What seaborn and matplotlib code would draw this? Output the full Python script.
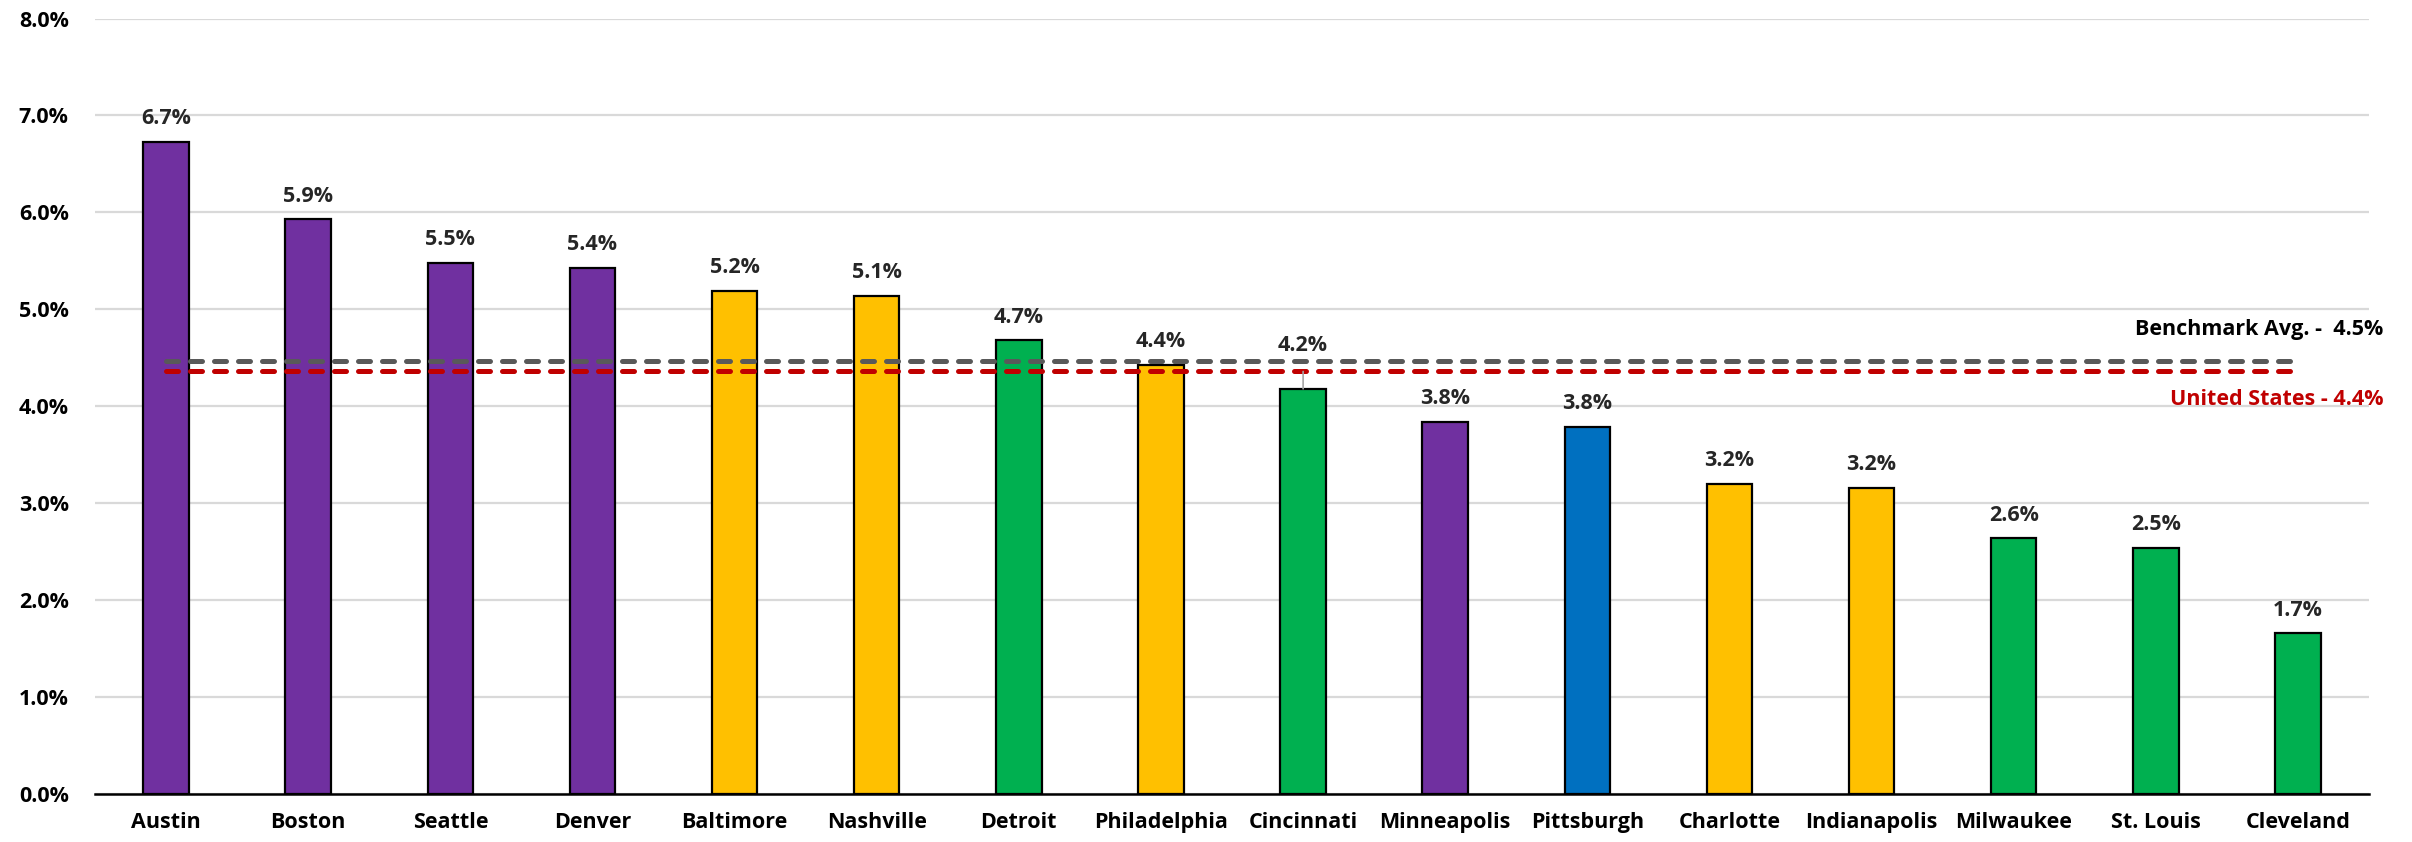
import matplotlib
matplotlib.use("Agg")
import matplotlib.pyplot as plt
import seaborn as sns
import pandas as pd

# Annual growth rate by metro area (%)
cities = ["Austin", "Boston", "Seattle", "Denver", "Baltimore", "Nashville",
          "Detroit", "Philadelphia", "Cincinnati", "Minneapolis", "Pittsburgh",
          "Charlotte", "Indianapolis", "Milwaukee", "St. Louis", "Cleveland"]
growth = [6.73, 5.93, 5.48, 5.43, 5.19, 5.14, 4.68, 4.43, 4.18, 3.84, 3.79,
          3.20, 3.16, 2.64, 2.54, 1.66]
groups = ["purple", "purple", "purple", "purple", "yellow", "yellow", "green",
          "yellow", "green", "purple", "blue", "yellow", "yellow", "green",
          "green", "green"]
benchmark_avg = 4.47
us_avg = 4.36
y_ticks = [0, 1, 2, 3, 4, 5, 6, 7, 8]

group_colors = {"purple": "#7030A0", "yellow": "#FFC000",
                "green": "#00B050", "blue": "#0070C0"}

df = pd.DataFrame({"city": cities, "growth": growth, "group": groups})

sns.set_theme(style="white")
plt.rcParams["font.family"] = ["Open Sans", "DejaVu Sans"]
plt.rcParams["font.weight"] = "bold"

FS = 15.5

fig = plt.figure(figsize=(24.12, 8.42), dpi=100)
ax = fig.add_axes([0.0394, 0.057, 0.9428, 0.921])

sns.barplot(data=df, x="city", y="growth", hue="city",
            palette=[group_colors[g] for g in groups], legend=False,
            width=0.32, edgecolor="black", linewidth=1.6, saturation=1,
            ax=ax, zorder=3)

ax.set_ylim(0, 8)
ax.set_xlim(-0.5, len(cities) - 0.5)
ax.set_yticks(y_ticks)
ax.set_yticklabels([f"{t:.1f}%" for t in y_ticks])
ax.yaxis.grid(True, color="#D9D9D9", linewidth=1.6, zorder=0)
ax.set_axisbelow(True)
ax.set_xlabel("")
ax.set_ylabel("")
for side in ["left", "right", "top"]:
    ax.spines[side].set_visible(False)
ax.spines["bottom"].set_color("black")
ax.spines["bottom"].set_linewidth(1.8)
ax.spines["bottom"].set_zorder(5)
ax.tick_params(axis="both", length=0, labelsize=FS, colors="black")
ax.tick_params(axis="y", pad=19)
ax.tick_params(axis="x", pad=13)
for lbl in ax.get_xticklabels() + ax.get_yticklabels():
    lbl.set_fontweight("bold")

# Reference lines
xline = [0, len(cities) - 1]
ax.plot(xline, [benchmark_avg] * 2, color="#595959", lw=3.6,
        linestyle=(0, (2.4, 2.4)), dash_capstyle="round", zorder=4)
ax.plot(xline, [us_avg] * 2, color="#C00000", lw=3.6,
        linestyle=(0, (2.4, 2.4)), dash_capstyle="round", zorder=4)

ax.text(15.6, 4.79, f"Benchmark Avg. -  {benchmark_avg:.1f}%", ha="right",
        va="center", fontsize=FS, fontweight="bold", color="black")
ax.text(15.6, 4.07, f"United States - {us_avg:.1f}%", ha="right",
        va="center", fontsize=FS, fontweight="bold", color="#C00000")

# Value labels
for i, v in enumerate(growth):
    if cities[i] == "Cincinnati":
        ax.annotate(f"{v:.1f}%", xy=(i, v), xytext=(i, 4.63),
                    ha="center", va="center", fontsize=FS, fontweight="bold",
                    arrowprops=dict(arrowstyle="-", color="#A6A6A6", lw=1.2,
                                    shrinkA=9, shrinkB=0), zorder=6)
    else:
        ax.annotate(f"{v:.1f}%", xy=(i, v), xytext=(0, 9),
                    textcoords="offset points", ha="center", va="bottom",
                    fontsize=FS, fontweight="bold")

fig.savefig("out.png", dpi=100)
